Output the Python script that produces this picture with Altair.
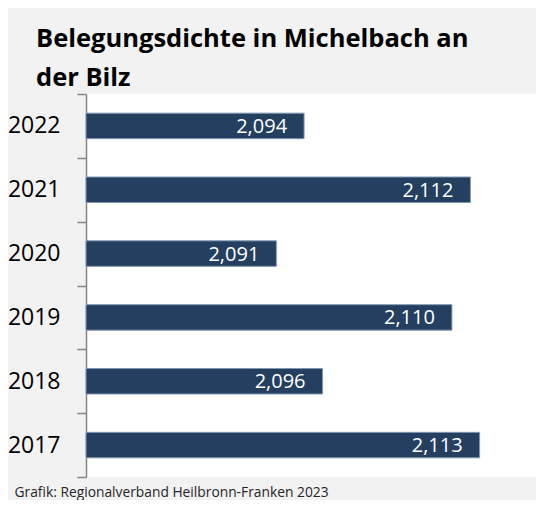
import altair as alt
import pandas as pd

years = ["2022", "2021", "2020", "2019", "2018", "2017"]
values = [2.094, 2.112, 2.091, 2.110, 2.096, 2.113]
labels = ["2,094", "2,112", "2,091", "2,110", "2,096", "2,113"]

title_lines = ["Belegungsdichte in Michelbach an", "der Bilz"]
source = "Grafik: Regionalverband Heilbronn-Franken 2023"

df = pd.DataFrame({"year": years, "value": values, "label": labels})

xmin, xmax = 2.0704, 2.1191
FONT = "Open Sans"

y = alt.Y(
    "year:N",
    sort=years,
    scale=alt.Scale(paddingInner=0, paddingOuter=0),
    axis=alt.Axis(
        title=None,
        labelFont=FONT,
        labelFontSize=23,
        labelColor="#000000",
        labelPadding=17,
        tickBand="extent",
        tickSize=9,
        tickColor="#868686",
        tickWidth=1.5,
        domainColor="#868686",
        domainWidth=1.5,
    ),
)

x = alt.X(
    "value:Q",
    scale=alt.Scale(domain=[xmin, xmax], zero=False, nice=False, clamp=True),
    axis=alt.Axis(
        title=source,
        titleFont=FONT,
        titleFontSize=13.8,
        titleFontWeight="normal",
        titleColor="#262626",
        titleAnchor="start",
        titleAlign="left",
        titleBaseline="alphabetic",
        titleX=-72,
        titleY=19,
        labels=False,
        ticks=False,
        domain=False,
        grid=False,
    ),
)

base = alt.Chart(df)

bars = base.mark_bar(
    color="#243f60", stroke="#8497b0", strokeWidth=1, height=25.5
).encode(y=y, x=x, x2=alt.datum(xmin))

text = base.mark_text(
    align="right", baseline="middle", dx=-17, dy=1, color="white", font=FONT, fontSize=20
).encode(y=alt.Y("year:N", sort=years), x=alt.X("value:Q"), text="label:N")

chart = (
    alt.layer(bars, text)
    .properties(
        width=450,
        height=383,
        background="#f2f2f2",
        padding={"left": 78, "top": 86, "right": 0, "bottom": 23},
        autosize=alt.AutoSizeParams(type="none"),
        title=alt.TitleParams(
            text=title_lines,
            font=FONT,
            fontSize=25.5,
            fontWeight="bold",
            color="#000000",
            anchor="start",
            frame="group",
            dx=-50,
            dy=36,
            offset=8,
            lineHeight=39,
            baseline="alphabetic",
        ),
    )
    .configure_view(fill="white", stroke=None)
)

chart.save("out.html", embed_options={"renderer": "svg", "actions": False})
